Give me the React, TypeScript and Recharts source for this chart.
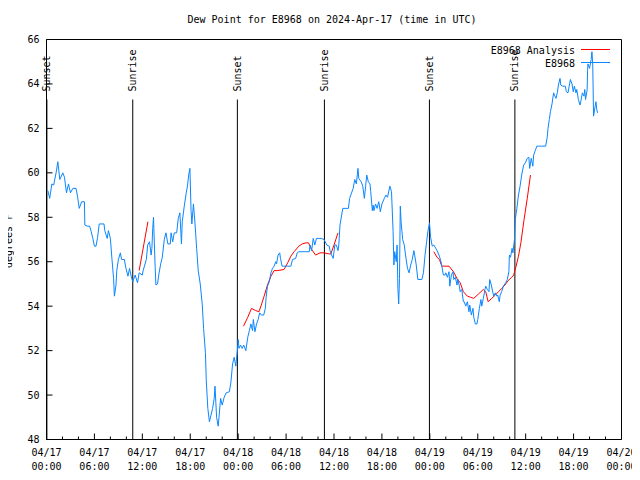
import { LineChart, Line, XAxis, YAxis, ReferenceLine } from "recharts";

// hours since 2024-04-17 00:00 UTC, dew point in F
const stationObs: [number, number][] = [
  [0.17, 59.2], [0.4, 58.85], [0.67, 59.5], [0.9, 59.45], [1.2, 60.0], [1.42, 60.5],
  [1.67, 59.7], [2.04, 60.0], [2.25, 59.8], [2.5, 59.1], [2.75, 59.5], [3.0, 59.1],
  [3.3, 59.3], [3.7, 59.3], [3.9, 58.9], [4.1, 58.4], [4.4, 58.7], [4.75, 58.7],
  [4.8, 57.65], [5.1, 57.6], [5.4, 57.6], [5.6, 57.35], [5.8, 57.05], [6.0, 56.7],
  [6.2, 56.7], [6.4, 57.1], [6.6, 57.7], [7.2, 57.7], [7.3, 57.4], [7.6, 57.05],
  [7.75, 57.4], [8.0, 57.05], [8.2, 56.1], [8.4, 55.25], [8.5, 54.45], [8.7, 54.95],
  [8.8, 55.6], [9.0, 56.1], [9.25, 56.4], [9.4, 56.1], [9.75, 56.1], [9.95, 55.7],
  [10.2, 55.35], [10.4, 55.7], [10.6, 55.35], [10.8, 55.1], [11.1, 55.4], [11.4, 55.05],
  [11.6, 55.5], [12.0, 55.4], [12.1, 55.6], [12.5, 56.1], [12.67, 56.75], [12.9, 56.9],
  [13.1, 56.3], [13.2, 56.6], [13.3, 57.5], [13.4, 58.0], [13.6, 55.8], [13.7, 54.95],
  [13.9, 55.0], [14.1, 55.5], [14.3, 55.9], [14.5, 56.2], [14.75, 57.0], [14.96, 57.3],
  [15.2, 56.8], [15.5, 56.8], [15.6, 57.3], [15.8, 56.9], [16.0, 57.3], [16.3, 57.3],
  [16.5, 57.95], [16.7, 58.2], [16.9, 56.8], [17.0, 57.8], [17.25, 58.5], [17.5, 59.1],
  [17.67, 59.45], [17.8, 59.9], [17.96, 60.2], [18.1, 58.3], [18.2, 57.7], [18.4, 58.6],
  [18.6, 57.7], [18.8, 56.6], [19.0, 55.6], [19.25, 55.0], [19.5, 54.1], [19.67, 53.0],
  [19.9, 51.9], [20.0, 50.7], [20.2, 49.4], [20.4, 48.8], [20.6, 49.1], [20.8, 49.4],
  [21.0, 49.85], [21.1, 50.4], [21.3, 49.0], [21.5, 48.6], [21.6, 49.0], [21.8, 49.85],
  [22.0, 49.55], [22.25, 49.9], [22.5, 50.1], [22.9, 50.15], [23.1, 50.6], [23.3, 51.4],
  [23.5, 51.7], [23.7, 51.3], [23.9, 52.0], [24.0, 52.5], [24.1, 52.1], [24.3, 52.25],
  [24.5, 52.1], [24.7, 52.25], [24.96, 52.0], [25.2, 52.6], [25.4, 52.9], [25.6, 53.2],
  [25.8, 52.9], [25.9, 53.4], [26.1, 52.85], [26.3, 53.2], [26.5, 53.4], [26.7, 53.7],
  [26.9, 53.6], [27.2, 53.6], [27.4, 53.9], [27.5, 54.4], [27.67, 54.9], [27.9, 55.1],
  [28.1, 55.5], [28.3, 55.7], [28.5, 55.8], [28.7, 56.0], [28.8, 55.9], [29.0, 56.3],
  [29.2, 56.4], [29.3, 56.15], [29.5, 55.8], [29.7, 55.8], [30.2, 55.8], [30.6, 55.8],
  [30.8, 56.1], [31.2, 56.15], [31.4, 56.4], [31.6, 56.45], [32.0, 56.45], [32.4, 56.45],
  [32.9, 56.45], [33.0, 56.75], [33.2, 56.5], [33.4, 57.05], [33.6, 56.75], [33.8, 57.05],
  [34.1, 57.05], [34.4, 57.05], [34.75, 57.0], [35.1, 56.75], [35.4, 56.7], [35.5, 56.5],
  [35.7, 56.3], [35.9, 56.15], [36.1, 56.75], [36.3, 56.75], [36.5, 56.5], [36.6, 56.75],
  [36.75, 57.65], [36.96, 58.1], [37.1, 58.4], [37.4, 58.4], [37.8, 58.4], [37.96, 58.85],
  [38.2, 59.1], [38.4, 59.3], [38.6, 59.7], [38.8, 59.5], [39.0, 60.2], [39.1, 59.75],
  [39.4, 59.6], [39.6, 59.4], [39.8, 58.85], [39.96, 59.4], [40.1, 59.9], [40.3, 59.6],
  [40.5, 59.5], [40.6, 59.15], [40.8, 58.3], [40.9, 58.55], [41.0, 58.3], [41.2, 58.6],
  [41.4, 58.4], [41.6, 58.7], [41.8, 58.25], [42.0, 58.6], [42.3, 58.85], [42.5, 59.0],
  [42.7, 58.9], [43.0, 59.4], [43.2, 59.15], [43.4, 57.35], [43.5, 55.85], [43.6, 56.45],
  [43.8, 56.0], [43.9, 56.75], [44.0, 54.8], [44.1, 54.1], [44.2, 55.25], [44.3, 58.5],
  [44.4, 57.8], [44.6, 57.0], [44.8, 56.75], [44.96, 56.3], [45.2, 55.7], [45.4, 55.5],
  [45.6, 55.85], [45.8, 56.1], [46.0, 56.5], [46.1, 56.3], [46.3, 55.85], [46.5, 55.2],
  [46.9, 55.2], [47.0, 55.2], [47.2, 55.5], [47.4, 56.3], [47.6, 56.9], [47.75, 57.35],
  [47.96, 57.75], [48.1, 57.1], [48.3, 56.7], [48.5, 56.75], [48.75, 56.6], [48.9, 56.5],
  [49.2, 56.25], [49.4, 56.0], [49.5, 55.8], [49.7, 55.4], [49.9, 55.4], [50.0, 55.5],
  [50.2, 55.3], [50.4, 55.55], [50.5, 54.9], [50.7, 55.4], [50.9, 55.55], [51.0, 55.2],
  [51.2, 55.3], [51.4, 54.95], [51.5, 55.2], [51.7, 54.9], [51.8, 54.65], [52.0, 54.75],
  [52.2, 54.2], [52.3, 54.2], [52.5, 54.0], [52.7, 54.2], [52.9, 53.75], [53.0, 54.05],
  [53.2, 53.6], [53.4, 53.9], [53.5, 53.5], [53.7, 53.2], [53.9, 53.2], [54.0, 53.4],
  [54.2, 53.9], [54.4, 54.3], [54.5, 54.0], [54.7, 54.35], [54.9, 54.75], [55.0, 54.9],
  [55.2, 54.75], [55.4, 54.65], [55.5, 55.2], [55.7, 54.95], [55.9, 54.6], [56.0, 54.45],
  [56.2, 54.6], [56.4, 54.45], [56.5, 54.5], [56.7, 54.2], [56.8, 54.5], [57.0, 54.65],
  [57.2, 54.9], [57.3, 54.95], [57.5, 55.05], [57.7, 55.2], [57.9, 55.55], [57.96, 56.3],
  [58.1, 56.2], [58.3, 56.6], [58.4, 56.4], [58.6, 57.0], [58.7, 57.9], [58.9, 58.4],
  [59.1, 59.0], [59.3, 59.4], [59.5, 59.9], [59.75, 60.35], [59.96, 60.45], [60.2, 60.65],
  [60.4, 60.7], [60.5, 60.2], [60.7, 60.65], [60.9, 60.3], [61.0, 60.8], [61.2, 61.0],
  [61.4, 61.2], [61.6, 61.2], [62.0, 61.2], [62.5, 61.2], [62.7, 61.6], [62.8, 62.0],
  [62.96, 62.4], [63.1, 62.75], [63.3, 63.1], [63.5, 63.6], [63.6, 63.5], [63.8, 63.35],
  [63.96, 63.6], [64.1, 63.95], [64.3, 64.25], [64.4, 63.95], [64.6, 63.9], [64.96, 63.9],
  [65.1, 63.65], [65.3, 63.6], [65.5, 64.0], [65.6, 64.2], [65.8, 64.0], [65.96, 63.65],
  [66.1, 63.9], [66.3, 63.6], [66.4, 63.75], [66.6, 63.3], [66.8, 63.05], [66.9, 63.2],
  [67.1, 63.6], [67.3, 63.45], [67.4, 63.75], [67.5, 63.3], [67.7, 63.75], [67.75, 64.6],
  [67.8, 64.9], [68.0, 64.7], [68.2, 65.1], [68.3, 65.45], [68.4, 64.85], [68.5, 62.55],
  [68.7, 63.0], [68.8, 63.2], [68.9, 62.85], [69.0, 62.7],
];

// analysis runs, null = gap between runs
const analysisObs: [number, number | null][] = [
  [11.6, 55.6], [12.2, 56.8], [12.7, 57.8], [18.0, null],
  [24.67, 53.1], [25.2, 53.5], [25.67, 53.9], [26.2, 53.8], [26.6, 53.75], [26.9, 54.05],
  [27.25, 54.45], [27.67, 54.95], [28.1, 55.35], [28.5, 55.6], [28.9, 55.6], [29.75, 55.65],
  [30.2, 55.95], [30.6, 56.25], [31.0, 56.45], [31.6, 56.7], [32.0, 56.8], [32.5, 56.85],
  [32.8, 56.85], [33.2, 56.55], [33.7, 56.3], [34.25, 56.4], [34.75, 56.4], [35.4, 56.35],
  [35.6, 56.35], [36.0, 56.75], [36.5, 57.3], [42.0, null],
  [48.5, 56.45], [48.9, 56.2], [49.2, 56.1], [49.5, 55.8], [50.4, 55.8], [50.96, 55.55],
  [51.4, 55.25], [51.8, 55.05], [52.2, 54.65], [52.7, 54.45], [53.1, 54.4], [53.5, 54.35],
  [54.1, 54.55], [54.7, 54.75], [55.0, 54.65], [55.3, 54.2], [55.75, 54.35], [56.2, 54.5],
  [56.6, 54.65], [57.0, 54.8], [57.4, 54.95], [57.8, 55.15], [58.25, 55.3], [58.5, 55.4],
  [58.8, 55.8], [59.1, 56.25], [59.4, 56.85], [59.8, 57.9], [60.2, 58.85], [60.6, 59.9],
];

const sunEvents: [string, number][] = [
  ["Sunset", 0.05], ["Sunrise", 10.8], ["Sunset", 23.9],
  ["Sunrise", 34.8], ["Sunset", 47.95], ["Sunrise", 58.65],
];

const xTickHours = [
  0, 2, 4, 6, 8, 10, 12, 14, 16, 18, 20, 22, 24, 26, 28, 30, 32, 34, 36,
  38, 40, 42, 44, 46, 48, 50, 52, 54, 56, 58, 60, 62, 64, 66, 68, 70, 72,
];
const xMajorHours = [0, 6, 12, 18, 24, 30, 36, 42, 48, 54, 60, 66, 72];
const xMajorLabels = [
  ["04/17", "00:00"], ["04/17", "06:00"], ["04/17", "12:00"], ["04/17", "18:00"],
  ["04/18", "00:00"], ["04/18", "06:00"], ["04/18", "12:00"], ["04/18", "18:00"],
  ["04/19", "00:00"], ["04/19", "06:00"], ["04/19", "12:00"], ["04/19", "18:00"],
  ["04/20", "00:00"],
];
const yTicks = [48, 50, 52, 54, 56, 58, 60, 62, 64, 66];

const FONT = "'DejaVu Sans Mono', monospace";
const BLUE = "#0a86ff";
const RED = "#ff0000";

const stationData = stationObs.map(([h, v]) => ({ h, v }));
const analysisData = analysisObs.map(([h, v]) => ({ h, v }));

function BottomTick({ x, y, payload }: any) {
  const i = xMajorHours.indexOf(payload.value);
  return (
    <g>
      <line x1={x} y1={y} x2={x} y2={y - (i >= 0 ? 6 : 3)} stroke="#000" />
      {i >= 0 && (
        <text x={x} y={y + 16} textAnchor="middle" fontFamily={FONT} fontSize={10} fill="#000">
          <tspan x={x}>{xMajorLabels[i][0]}</tspan>
          <tspan x={x} dy={14}>{xMajorLabels[i][1]}</tspan>
        </text>
      )}
    </g>
  );
}

function TopTick({ x, y, payload }: any) {
  const major = xMajorHours.includes(payload.value);
  return <line x1={x} y1={y} x2={x} y2={y + (major ? 6 : 3)} stroke="#000" />;
}

function LeftTick({ x, y, payload }: any) {
  return (
    <g>
      <line x1={x} y1={y} x2={x + 6} y2={y} stroke="#000" />
      <text x={x - 7} y={y} dy="0.35em" textAnchor="end" fontFamily={FONT} fontSize={10} fill="#000">
        {payload.value}
      </text>
    </g>
  );
}

function RightTick({ x, y }: any) {
  return <line x1={x} y1={y} x2={x - 6} y2={y} stroke="#000" />;
}

function sunLabel(text: string) {
  return (props: any) => {
    const vb = props.viewBox;
    if (!vb) return null;
    const x = vb.x;
    const y = vb.y - 8;
    return (
      <text x={x} y={y} dy="0.35em" transform={`rotate(-90 ${x} ${y})`}
        fontFamily={FONT} fontSize={10} fill="#000">
        {text}
      </text>
    );
  };
}

export default function App() {
  return (
    <div style={{ position: "relative", width: 640, height: 480, margin: -8, background: "#fff" }}>
      <LineChart width={640} height={480} margin={{ top: 38.5, right: 17.5, bottom: 0, left: 0 }}>
        <XAxis dataKey="h" type="number" domain={[0, 72]} ticks={xTickHours} interval={0}
          height={40.5} tickSize={0} tickMargin={0} tickLine={false}
          axisLine={{ stroke: "#000" }} tick={BottomTick} />
        <XAxis xAxisId="top" orientation="top" dataKey="h" type="number" domain={[0, 72]}
          ticks={xTickHours} interval={0} height={1} tickSize={0} tickMargin={0}
          tickLine={false} axisLine={{ stroke: "#000" }} tick={TopTick} />
        <YAxis type="number" domain={[48, 66]} ticks={yTicks} interval={0} width={46.5}
          tickSize={0} tickMargin={0} tickLine={false} axisLine={{ stroke: "#000" }} tick={LeftTick} />
        <YAxis yAxisId="right" orientation="right" type="number" domain={[48, 66]} ticks={yTicks}
          interval={0} width={1} tickSize={0} tickMargin={0} tickLine={false}
          axisLine={{ stroke: "#000" }} tick={RightTick} />
        {sunEvents.map(([name, h], i) => (
          <ReferenceLine key={i} segment={[{ x: h, y: 48 }, { x: h, y: 63.3 }]}
            stroke="#000" strokeWidth={1} label={sunLabel(name)} />
        ))}
        <Line data={analysisData} dataKey="v" type="linear" stroke={RED} strokeWidth={1}
          dot={false} connectNulls={false} isAnimationActive={false} />
        <Line data={stationData} dataKey="v" type="linear" stroke={BLUE} strokeWidth={1}
          dot={false} isAnimationActive={false} />
      </LineChart>
      <div
        style={{
          position: "absolute", left: 3, top: 212, height: 58, width: 12,
          writingMode: "vertical-rl", transform: "rotate(180deg)",
          fontFamily: FONT, fontSize: 10, lineHeight: "12px", textAlign: "center",
          whiteSpace: "nowrap", color: "#000",
        }}
      >
        degrees F
      </div>
      <svg width={640} height={480} style={{ position: "absolute", left: 0, top: 0, pointerEvents: "none" }}>
        <text x={332} y={23} textAnchor="middle" fontFamily={FONT} fontSize={10} fill="#000">
          Dew Point for E8968 on 2024-Apr-17 (time in UTC)
        </text>
        <text x={575} y={54} textAnchor="end" fontFamily={FONT} fontSize={10} fill="#000">
          E8968 Analysis
        </text>
        <line x1={581} y1={49.5} x2={610} y2={49.5} stroke={RED} />
        <text x={575} y={67} textAnchor="end" fontFamily={FONT} fontSize={10} fill="#000">
          E8968
        </text>
        <line x1={581} y1={62.5} x2={610} y2={62.5} stroke={BLUE} />
      </svg>
    </div>
  );
}
